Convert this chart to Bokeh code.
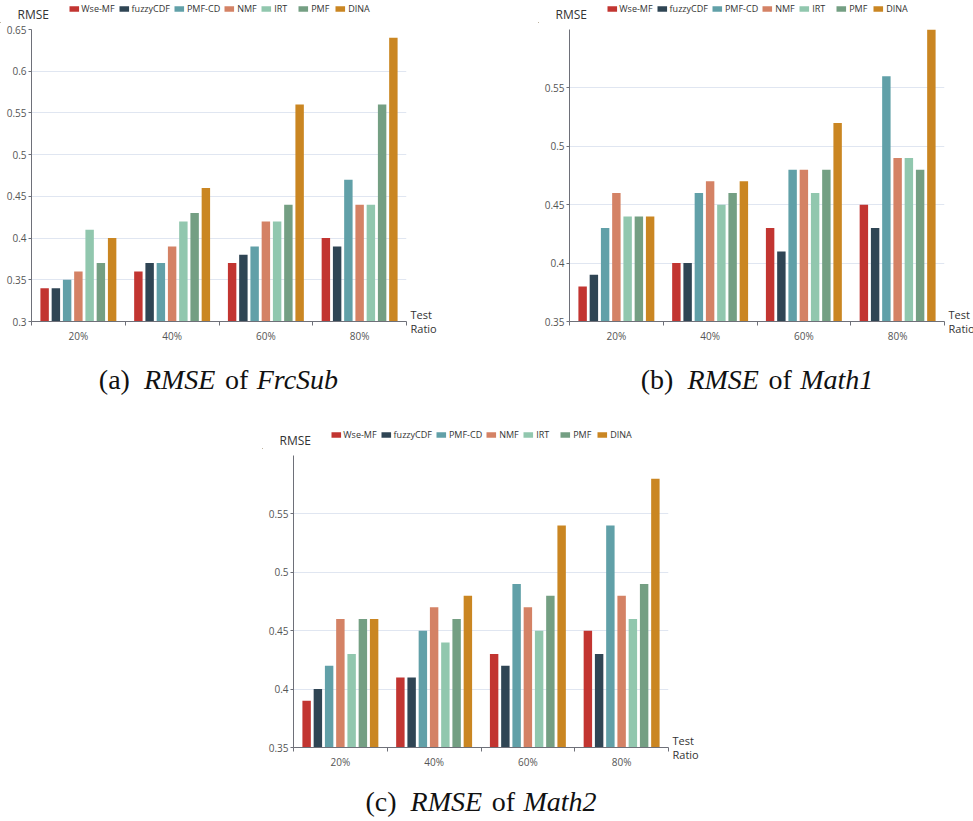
from bokeh.plotting import figure
from bokeh.models import (ColumnDataSource, Range1d, Legend, LegendItem, LinearAxis,
                          FixedTicker, SingleIntervalTicker, NumeralTickFormatter, Spacer)
from bokeh.layouts import row, column
from bokeh.transform import dodge
from bokeh.core.properties import value
from bokeh.embed import file_html
from bokeh.resources import INLINE

# ---------------- data ----------------
ratios = ["20%", "40%", "60%", "80%"]
models = ["Wse-MF", "fuzzyCDF", "PMF-CD", "NMF", "IRT", "PMF", "DINA"]
colors = ["#c23531", "#2f4554", "#61a0a8", "#d48265", "#91c7ae", "#749f83", "#ca8622"]

# (a) FrcSub
frcsub_wsemf = [0.34, 0.36, 0.37, 0.40]
frcsub_fuzzycdf = [0.34, 0.37, 0.38, 0.39]
frcsub_pmfcd = [0.35, 0.37, 0.39, 0.47]
frcsub_nmf = [0.36, 0.39, 0.42, 0.44]
frcsub_irt = [0.41, 0.42, 0.42, 0.44]
frcsub_pmf = [0.37, 0.43, 0.44, 0.56]
frcsub_dina = [0.40, 0.46, 0.56, 0.64]

# (b) Math1
math1_wsemf = [0.38, 0.40, 0.43, 0.45]
math1_fuzzycdf = [0.39, 0.40, 0.41, 0.43]
math1_pmfcd = [0.43, 0.46, 0.48, 0.56]
math1_nmf = [0.46, 0.47, 0.48, 0.49]
math1_irt = [0.44, 0.45, 0.46, 0.49]
math1_pmf = [0.44, 0.46, 0.48, 0.48]
math1_dina = [0.44, 0.47, 0.52, 0.60]

# (c) Math2
math2_wsemf = [0.39, 0.41, 0.43, 0.45]
math2_fuzzycdf = [0.40, 0.41, 0.42, 0.43]
math2_pmfcd = [0.42, 0.45, 0.49, 0.54]
math2_nmf = [0.46, 0.47, 0.47, 0.48]
math2_irt = [0.43, 0.44, 0.45, 0.46]
math2_pmf = [0.46, 0.46, 0.48, 0.49]
math2_dina = [0.46, 0.48, 0.54, 0.58]

y_label = "RMSE"
x_label = "Test\nRatio"

# ---------------- styling ----------------
FONT = "Open Sans"
SERIF = "Liberation Serif"
AXIS_COLOR = "#6E7079"
GRID_COLOR = "#E0E6F1"
BAR_STEP = 0.12
BAR_WIDTH = 0.09
CAP_SIZE = 28
FW, FH = 375, 292          # frame size
BL, BR, BT, BB = 31, 31, 6, 25
W = BL + FW + BR
HEAD_H = 23

# Times / Liberation Serif advance widths (per 1000 em)
REG_W = {'(': 333, ')': 333, 'a': 444, 'b': 500, 'c': 444, 'o': 500, 'f': 333, ' ': 250}
ITA_W = {'R': 611, 'M': 833, 'S': 500, 'E': 611, 'F': 611, 'r': 389, 'c': 444, 'u': 500,
         'b': 500, 'a': 500, 't': 278, 'h': 500, '1': 500, '2': 500}


def text_w(s, italic):
    tab = ITA_W if italic else REG_W
    return sum(tab.get(ch, 500) for ch in s) * CAP_SIZE / 1000.0


def bare(width, height):
    f = figure(width=width, height=height, output_backend="svg", toolbar_location=None,
               x_range=Range1d(0, width), y_range=Range1d(0, height), min_border=0,
               x_axis_type=None, y_axis_type=None, title=None)
    f.outline_line_color = None
    f.grid.grid_line_color = None
    return f


def header():
    h = bare(W, HEAD_H)
    items = []
    for m, c in zip(models, colors):
        r = h.vbar(x=[-100], top=[1], bottom=[0], width=1, fill_color=c, line_color=None)
        items.append(LegendItem(label=m, renderers=[r]))
    leg = Legend(items=items, orientation="horizontal", location="top_center",
                 glyph_width=12, glyph_height=7, label_text_font=FONT,
                 label_text_font_size="9px", label_text_color="#333333",
                 label_standoff=2, spacing=3, padding=0, margin=2, label_height=9,
                 border_line_color=None, background_fill_alpha=0)
    h.add_layout(leg)
    h.text(x=[BL - 14], y=[9], text=[y_label], text_font=value(FONT),
           text_font_size="12px", text_color="#333333", text_baseline="alphabetic")
    return h


def caption(tag, dataset, height, base_from_top):
    cp = bare(W, height)
    segs = [(tag, False, 0.5 * CAP_SIZE), (y_label, True, 0.34 * CAP_SIZE),
            ("of", False, 0.3 * CAP_SIZE), (dataset, True, 0)]
    total = sum(text_w(s, it) + g for s, it, g in segs)
    xpos = BL + FW / 2 - total / 2
    for s, it, g in segs:
        cp.text(x=[xpos], y=[height - base_from_top], text=[s], text_font=value(SERIF),
                text_font_size=f"{CAP_SIZE}px",
                text_font_style=value("italic" if it else "normal"),
                text_color="#111111", text_baseline="alphabetic", text_align="left")
        xpos += text_w(s, it) + g
    return cp


def chart(series, y0, y1):
    p = figure(frame_width=FW, frame_height=FH, output_backend="svg", toolbar_location=None,
               x_range=Range1d(0, len(ratios)), y_range=Range1d(y0, y1), title=None,
               min_border_left=BL, min_border_right=BR, min_border_top=BT, min_border_bottom=BB)
    p.outline_line_color = None
    p.xgrid.grid_line_color = None
    p.ygrid.grid_line_color = GRID_COLOR

    centers = [i + 0.5 for i in range(len(ratios))]
    src = {"x": centers}
    for m, vals in zip(models, series):
        src[m] = vals
    source = ColumnDataSource(src)

    n = len(models)
    for j, (m, c) in enumerate(zip(models, colors)):
        p.vbar(x=dodge("x", (j - (n - 1) / 2) * BAR_STEP), top=m, bottom=y0,
               width=BAR_WIDTH, source=source, fill_color=c, line_color=None)

    xa = p.xaxis[0]
    xa.ticker = FixedTicker(ticks=centers, minor_ticks=list(range(len(ratios) + 1)))
    xa.major_label_overrides = {cx: lab for cx, lab in zip(centers, ratios)}
    xa.major_tick_in = 0
    xa.major_tick_out = 0
    xa.minor_tick_in = 0
    xa.minor_tick_out = 4
    xa.minor_tick_line_color = AXIS_COLOR
    xa.axis_line_color = AXIS_COLOR
    xa.major_label_text_color = "#555555"
    xa.major_label_text_font = FONT
    xa.major_label_text_font_size = "10px"
    xa.major_label_standoff = 3

    ya = p.yaxis[0]
    ya.ticker = SingleIntervalTicker(interval=0.05, num_minor_ticks=0)
    ya.formatter = NumeralTickFormatter(format="0.[00]")
    ya.major_tick_in = 0
    ya.major_tick_out = 3
    ya.minor_tick_line_color = None
    ya.major_tick_line_color = AXIS_COLOR
    ya.axis_line_color = AXIS_COLOR
    ya.major_label_text_color = "#555555"
    ya.major_label_text_font = FONT
    ya.major_label_text_font_size = "10px"
    ya.major_label_standoff = 2

    ra = LinearAxis(ticker=FixedTicker(ticks=[y0]), major_label_overrides={y0: x_label},
                    axis_line_color=None, major_tick_line_color=None, minor_tick_line_color=None,
                    major_tick_in=0, major_tick_out=0, major_label_standoff=4,
                    major_label_text_font=FONT, major_label_text_font_size="11px",
                    major_label_text_line_height=0.95,
                    major_label_text_color="#333333")
    p.add_layout(ra, "right")
    return p


pa = chart([frcsub_wsemf, frcsub_fuzzycdf, frcsub_pmfcd, frcsub_nmf, frcsub_irt, frcsub_pmf, frcsub_dina], 0.3, 0.65)
pb = chart([math1_wsemf, math1_fuzzycdf, math1_pmfcd, math1_nmf, math1_irt, math1_pmf, math1_dina], 0.35, 0.6)
pc = chart([math2_wsemf, math2_fuzzycdf, math2_pmfcd, math2_nmf, math2_irt, math2_pmf, math2_dina], 0.35, 0.6)

col_a = column(row(header()), pa, row(caption("(a)", "FrcSub", 80, 33)))
col_b = column(row(header()), pb, row(caption("(b)", "Math1", 80, 33)))
col_c = column(row(header()), pc, row(caption("(c)", "Math2", 49, 29)))

layout = column(row(col_a, Spacer(width=99, height=10), col_b),
                row(Spacer(width=262, height=10), col_c))

open("out.html", "w").write(file_html(layout, INLINE))
